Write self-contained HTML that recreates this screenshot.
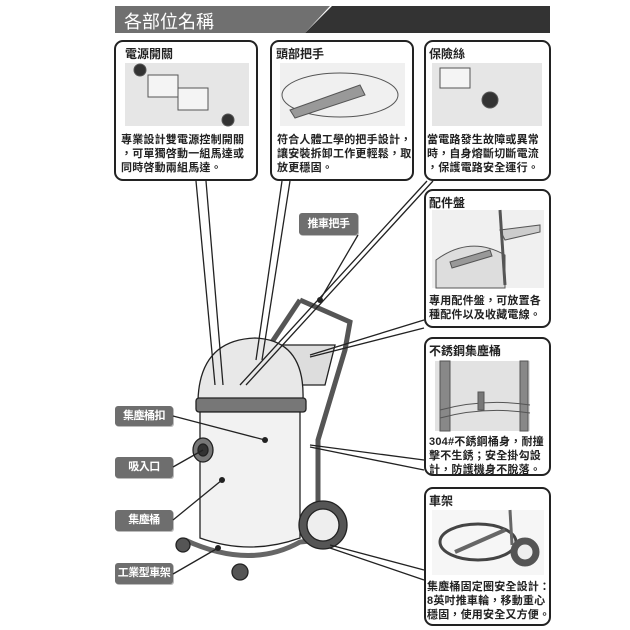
<!DOCTYPE html>
<html><head><meta charset="utf-8"><style>
body{margin:0;width:630px;height:630px;background:#fff;overflow:hidden;position:relative;font-family:"Liberation Sans","Noto Sans CJK TC",sans-serif;}
.box{position:absolute;border:2px solid #222;border-radius:9px;background:transparent;box-sizing:border-box;}
.t{position:absolute;font-size:12px;font-weight:bold;color:#222;}
.d{position:absolute;font-size:11px;font-weight:bold;color:#222;line-height:14px;letter-spacing:0.2px}
.img{position:absolute;background:#e6e6e6;}
.lab{position:absolute;background:#6e6e6e;color:#fff;font-size:11px;font-weight:bold;border-radius:3px;text-align:center;box-shadow:1px 1px 0 #bbb;white-space:nowrap;letter-spacing:-0.5px}
</style></head><body>
<svg width="630" height="630" style="position:absolute;left:0;top:0">
<polygon points="115,6 330,6 305,33 115,33" fill="#707070"/>
<polygon points="332,6 550,6 550,33 305,33" fill="#333"/>
</svg>
<div style="position:absolute;left:124px;top:8px;color:#fff;font-size:18px;">各部位名稱</div>

<div class="img" style="left:125px;top:63px;width:124px;height:63px"></div>
<div class="img" style="left:280px;top:63px;width:125px;height:63px;background:#f0f0f0"></div>
<div class="img" style="left:432px;top:63px;width:110px;height:63px"></div>
<div class="img" style="left:432px;top:210px;width:112px;height:78px;background:#f0f0f0"></div>
<div class="img" style="left:435px;top:361px;width:95px;height:70px;background:#e2e2e2"></div>
<div class="img" style="left:432px;top:510px;width:112px;height:65px;background:#f6f6f6"></div>

<div class="box" style="left:114px;top:40px;width:144px;height:141px"></div>
<div class="box" style="left:270px;top:40px;width:144px;height:141px"></div>
<div class="box" style="left:424px;top:40px;width:127px;height:141px"></div>
<div class="box" style="left:424px;top:189px;width:127px;height:139px"></div>
<div class="box" style="left:424px;top:337px;width:127px;height:139px"></div>
<div class="box" style="left:424px;top:487px;width:127px;height:139px"></div>

<svg width="630" height="630" style="position:absolute;left:0;top:0" fill="none" stroke="#555" stroke-width="1">
<rect x="148" y="75" width="30" height="22" fill="#f4f4f4"/><rect x="178" y="88" width="30" height="22" fill="#f4f4f4"/>
<circle cx="140" cy="70" r="6" fill="#333"/><circle cx="228" cy="120" r="6" fill="#333"/>
<ellipse cx="340" cy="95" rx="58" ry="22"/>
<path d="M290,110 L360,85 L365,95 L295,118 Z" fill="#999"/>
<rect x="440" y="68" width="30" height="20" fill="#f4f4f4"/><circle cx="490" cy="100" r="8" fill="#333"/>
<path d="M436,260 Q470,235 505,255 L505,288 L436,288 Z" fill="#ddd"/>
<path d="M450,262 L490,250 L492,256 L452,268 Z" fill="#999"/>
<path d="M500,230 L540,225 L540,232 L505,240 Z" fill="#ccc"/><path d="M500,210 L505,285" stroke-width="3"/>
<rect x="440" y="361" width="10" height="70" fill="#888"/><rect x="520" y="361" width="8" height="70" fill="#888"/>
<path d="M440,410 Q485,398 530,405 M440,418 Q485,406 530,413"/>
<rect x="478" y="392" width="6" height="18" fill="#777"/>
<ellipse cx="478" cy="542" rx="38" ry="18" stroke="#444" stroke-width="3"/>
<path d="M455,552 L505,530" stroke="#666" stroke-width="4"/>
<path d="M510,510 L512,545" stroke="#666" stroke-width="3"/>
<circle cx="525" cy="552" r="14" fill="#555"/><circle cx="525" cy="552" r="8" fill="#eee"/>
</svg>
<div class="t" style="left:125px;top:45px">電源開關</div>
<div class="d" style="left:121px;top:133px;width:136px">專業設計雙電源控制開關<br>，可單獨啓動一組馬達或<br>同時啓動兩組馬達。</div>
<div class="t" style="left:276px;top:45px">頭部把手</div>
<div class="d" style="left:277px;top:133px;width:136px">符合人體工學的把手設計，<br>讓安裝拆卸工作更輕鬆，取<br>放更穩固。</div>
<div class="t" style="left:429px;top:45px">保險絲</div>
<div class="d" style="left:427px;top:133px;width:124px">當電路發生故障或異常<br>時，自身熔斷切斷電流<br>，保護電路安全運行。</div>
<div class="t" style="left:429px;top:194px">配件盤</div>
<div class="d" style="left:429px;top:294px;width:124px">專用配件盤，可放置各<br>種配件以及收藏電線。</div>
<div class="t" style="left:429px;top:342px">不銹鋼集塵桶</div>
<div class="d" style="left:429px;top:435px;width:124px">304#不銹鋼桶身，耐撞<br>擊不生銹；安全掛勾設<br>計，防護機身不脫落。</div>
<div class="t" style="left:429px;top:492px">車架</div>
<div class="d" style="left:427px;top:580px;width:126px">集塵桶固定圈安全設計：<br>8英吋推車輪，移動重心<br>穩固，使用安全又方便。</div>

<div class="lab" style="left:115px;top:406px;width:58px;height:20px;line-height:20px">集塵桶扣</div>
<div class="lab" style="left:115px;top:457px;width:58px;height:21px;line-height:21px">吸入口</div>
<div class="lab" style="left:115px;top:510px;width:58px;height:21px;line-height:21px">集塵桶</div>
<div class="lab" style="left:115px;top:563px;width:58px;height:21px;line-height:21px">工業型車架</div>
<div class="lab" style="left:299px;top:213px;width:59px;height:22px;line-height:22px">推車把手</div>

<svg width="630" height="630" style="position:absolute;left:0;top:0" fill="none" stroke="#222" stroke-width="1.3">
<path d="M300,300 L350,322 L345,350 L318,440 L318,520" stroke="#555" stroke-width="5"/>
<path d="M300,300 L270,345" stroke="#555" stroke-width="5"/>
<path d="M265,345 L335,345 L325,385 L270,385 Z" fill="#ddd"/>
<path d="M198,400 Q200,340 255,338 Q305,340 303,400 Z" fill="#e8e8e8"/>
<rect x="196" y="398" width="110" height="14" rx="3" fill="#777"/>
<path d="M200,412 L300,412 L300,538 Q250,556 200,538 Z" fill="#f2f2f2"/>
<ellipse cx="203" cy="450" rx="10" ry="12" fill="#777"/>
<ellipse cx="203" cy="450" rx="5" ry="6" fill="#333"/>
<path d="M185,540 Q250,570 300,542 L320,540" stroke="#666" stroke-width="5"/>
<circle cx="323" cy="525" r="24" fill="#555"/><circle cx="323" cy="525" r="16" fill="#eee"/>
<circle cx="183" cy="545" r="7" fill="#555"/><circle cx="240" cy="572" r="8" fill="#555"/>
<path d="M196,181 L215,385 M206,181 L223,385"/>
<path d="M282,181 L256,360 M290,181 L262,360"/>
<path d="M427,181 L240,385 M433,181 L246,385"/>
<path d="M358,235 L320,300"/>
<path d="M424,320 L310,355 M424,328 L310,357"/>
<path d="M424,460 L310,445 M424,470 L310,447"/>
<path d="M424,570 L330,545 M424,580 L330,548"/>
<path d="M173,416 L265,440"/>
<path d="M173,467 L203,450"/>
<path d="M173,520 L222,480"/>
<path d="M173,574 L218,548"/>
</svg>
<svg width="630" height="630" style="position:absolute;left:0;top:0" fill="#222">
<circle cx="320" cy="300" r="3"/><circle cx="222" cy="480" r="3"/><circle cx="218" cy="548" r="3"/><circle cx="265" cy="440" r="3"/>
</svg>
</body></html>
